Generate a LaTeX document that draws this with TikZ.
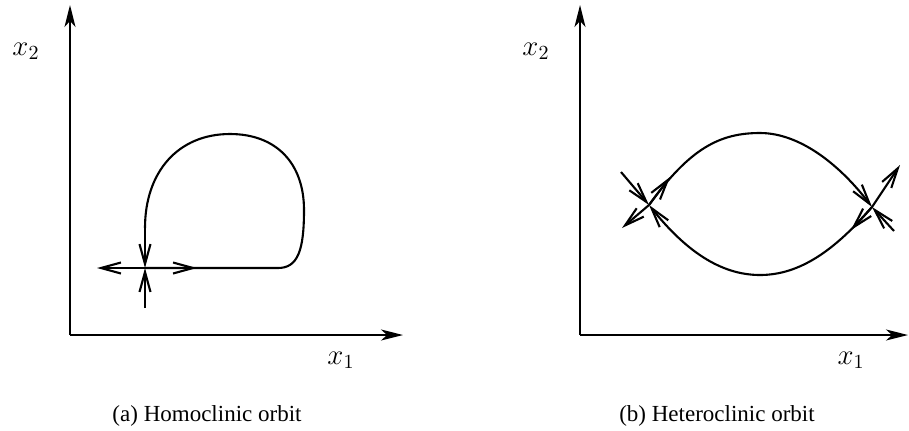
\documentclass[tikz,border=0pt]{standalone}
\usepackage{fontspec}
\setmainfont{Liberation Serif}
\usetikzlibrary{arrows.meta}
\begin{document}
\begin{tikzpicture}[x=0.5pt,y=-0.5pt,
  axis/.style={line width=0.9pt,-{Stealth[length=11pt,width=5.5pt,inset=3pt]}},
  orbit/.style={line width=1.05pt},
  flow/.style={line width=1.05pt,-{Straight Barb[length=10pt,width=5.5pt]}},
  lbl/.style={font=\fontsize{14.4}{17}\selectfont,inner sep=0pt},
  captext/.style={font=\fontsize{11.5}{14}\selectfont,inner sep=0pt,anchor=base}]
\useasboundingbox (0,0) rectangle (909,430);
% ---------- (a) homoclinic ----------
\coordinate (O1) at (70,335);
\coordinate (Y1) at (70,5);
\coordinate (X1) at (403,335);
\draw[axis] (O1) -- (Y1);
\draw[axis] (O1) -- (X1);
\node[lbl] (lx2a) at (26,51) {$x_2$};
\node[lbl] (lx1a) at (341,360) {$x_1$};
\coordinate (S) at (145,268);
\coordinate (HL) at (97,268);
\coordinate (HR) at (197,268);
\coordinate (VB) at (145,308);
\coordinate (a) at (278,268);
\coordinate (b) at (304,210);
\coordinate (c) at (230,134);
\coordinate (d) at (145,228);
\draw[orbit] (S) -- (a) .. controls (298,268) and (304,250) .. (b)
  .. controls (304,163) and (276,134) .. (c)
  .. controls (178,134) and (145,172) .. (d);
\draw[flow] (d) -- (S);
\draw[flow] (S) -- (HL);
\draw[flow] (S) -- (HR);
\draw[flow] (VB) -- (S);
\node[captext] (capa) at (207,421) {(a) Homoclinic orbit};
% ---------- (b) heteroclinic ----------
\coordinate (O2) at (580,335);
\coordinate (Y2) at (580,5);
\coordinate (X2) at (908,335);
\draw[axis] (O2) -- (Y2);
\draw[axis] (O2) -- (X2);
\node[lbl] (lx2b) at (536,51) {$x_2$};
\node[lbl] (lx1b) at (851,360) {$x_1$};
\coordinate (L) at (649,205);
\coordinate (R) at (872,207);
\coordinate (T) at (760,133);
\coordinate (B) at (760,275);
\coordinate (U1) at (670,177);
\coordinate (D2) at (851,230);
\coordinate (LA) at (621,172);
\coordinate (LB) at (622,228);
\coordinate (RA) at (900,165);
\coordinate (RB) at (894,231);
\draw[flow] (L) .. controls (690,148) and (720,133) .. (T)
  .. controls (800,133) and (840,165) .. (R);
\draw[flow] (R) .. controls (835,250) and (800,275) .. (B)
  .. controls (720,275) and (685,250) .. (L);
\draw[flow] (L) -- (U1);
\draw[flow] (R) -- (D2);
\draw[flow] (LA) -- (L);
\draw[flow] (L) -- (LB);
\draw[flow] (R) -- (RA);
\draw[flow] (RB) -- (R);
\node[captext] (capb) at (717,421) {(b) Heteroclinic orbit};
\end{tikzpicture}
\end{document}
